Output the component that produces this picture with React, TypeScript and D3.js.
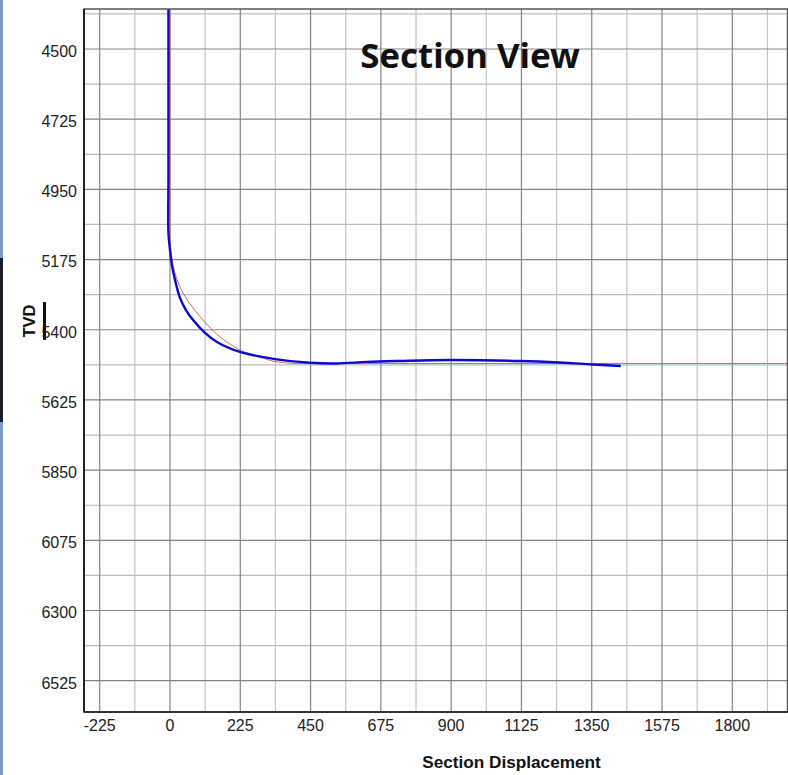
import React from "react";
import * as d3 from "d3";

// Tick values
const xTicks = [-225, 0, 225, 450, 675, 900, 1125, 1350, 1575, 1800];
const yTicks = [4500, 4725, 4950, 5175, 5400, 5625, 5850, 6075, 6300, 6525];
const xMinor = [-112.5, 112.5, 337.5, 562.5, 787.5, 1012.5, 1237.5, 1462.5, 1687.5, 1912.5];
const yMinor = [4387.5, 4612.5, 4837.5, 5062.5, 5287.5, 5512.5, 5737.5, 5962.5, 6187.5, 6412.5, 6637.5];

// Actual well path (blue): section displacement, TVD
const actualX = [-5, -5, -5, 0, 6, 16, 32, 51, 74, 112, 150, 224, 336, 448, 534, 630, 736, 896, 1120, 1232, 1344, 1443];
const actualTVD = [4300, 4900, 5090, 5144, 5192, 5240, 5298, 5337, 5369, 5410, 5439, 5471, 5494, 5506, 5508, 5503, 5500, 5497, 5500, 5504, 5511, 5516];

// Planned well path (red)
const planX = [0, 0, 5, 15, 30, 55, 80, 106, 140, 182, 238, 300, 360, 408, 2100];
const planTVD = [4300, 5100, 5165, 5215, 5258, 5304, 5338, 5369, 5405, 5439, 5471, 5492, 5505, 5508, 5508];

const W = 788;
const H = 775;
const L = 84, R = 787.5, T = 9, B = 712;

export default function App() {
  const x = d3.scaleLinear().domain([0, 1800]).range([170, 732.3]);
  const y = d3.scaleLinear().domain([4500, 6525]).range([49, 680.7]);

  const line = d3
    .line<[number, number]>()
    .x((d) => x(d[0]))
    .y((d) => y(d[1]))
    .curve(d3.curveMonotoneY);
  const lineAct = d3
    .line<[number, number]>()
    .x((d) => x(d[0]))
    .y((d) => y(d[1]))
    .curve(d3.curveCatmullRom.alpha(0.5));

  const actual = actualX.map((v, i) => [v, actualTVD[i]] as [number, number]);
  const plan = planX.map((v, i) => [v, planTVD[i]] as [number, number]);

  const font = "'Liberation Sans', Arial, Helvetica, sans-serif";

  return (
    <svg
      width={W}
      height={H}
      style={{ position: "absolute", left: 0, top: 0, background: "#fff" }}
    >
      <defs>
        <clipPath id="plotclip">
          <rect x={L} y={T} width={R - L} height={B - T} />
        </clipPath>
      </defs>
      <rect x={0} y={0} width={W} height={H} fill="#fff" />
      {/* left strip */}
      <rect x={0} y={0} width={3} height={H} fill="#7b9bc2" />
      <rect x={0} y={258} width={3} height={164} fill="#1c1c28" />

      {/* grid */}
      {xMinor.map((v) =>
        x(v) > L && x(v) < R ? (
          <line key={"xm" + v} x1={x(v)} x2={x(v)} y1={T} y2={B} stroke="#c4c4c4" strokeWidth={1.2} />
        ) : null
      )}
      {yMinor.map((v) =>
        y(v) > T && y(v) < B ? (
          <line key={"ym" + v} x1={L} x2={R} y1={y(v)} y2={y(v)} stroke="#bdbdbd" strokeWidth={1.2} />
        ) : null
      )}
      {xTicks.map((v) => (
        <line key={"xg" + v} x1={x(v)} x2={x(v)} y1={T} y2={B} stroke="#858585" strokeWidth={1.2} />
      ))}
      {yTicks.map((v) => (
        <line key={"yg" + v} x1={L} x2={R} y1={y(v)} y2={y(v)} stroke="#858585" strokeWidth={1.2} />
      ))}

      {/* curves */}
      <g clipPath="url(#plotclip)">
        <path d={line(plan) || ""} fill="none" stroke="#d9605a" strokeWidth={1} />
        <path d={lineAct(actual) || ""} fill="none" stroke="#0a0ad0" strokeWidth={2.4} />
      </g>

      {/* frame */}
      <rect x={L} y={T} width={R - L} height={B - T} fill="none" stroke="#555" strokeWidth={1.5} />
      <line x1={L} x2={L} y1={T} y2={B} stroke="#222" strokeWidth={2} />
      <line x1={L} x2={R} y1={B} y2={B} stroke="#333" strokeWidth={2} />

      {/* tick labels */}
      {yTicks.map((v) => (
        <text key={"yl" + v} x={77} y={y(v) + 7.8} textAnchor="end" fontFamily={font} fontSize={16} fill="#222">
          {v}
        </text>
      ))}
      {xTicks.map((v) => (
        <text key={"xl" + v} x={x(v)} y={730.8} textAnchor="middle" fontFamily={font} fontSize={16} fill="#222">
          {v}
        </text>
      ))}

      {/* titles */}
      <text x={470} y={68} textAnchor="middle" fontFamily="'Noto Sans', sans-serif" fontWeight={700} fontSize={34.8} fill="#111">
        Section View
      </text>
      <text x={511.5} y={768} textAnchor="middle" fontFamily={font} fontWeight={700} fontSize={17.2} fill="#111">
        Section Displacement
      </text>
      <text
        transform="translate(35,321) rotate(-90)"
        textAnchor="middle"
        fontFamily={font}
        fontWeight={700}
        fontSize={16.5}
        fill="#111"
      >
        TVD
      </text>
      <rect x={43} y={302} width={3} height={38} fill="#111" />
    </svg>
  );
}
